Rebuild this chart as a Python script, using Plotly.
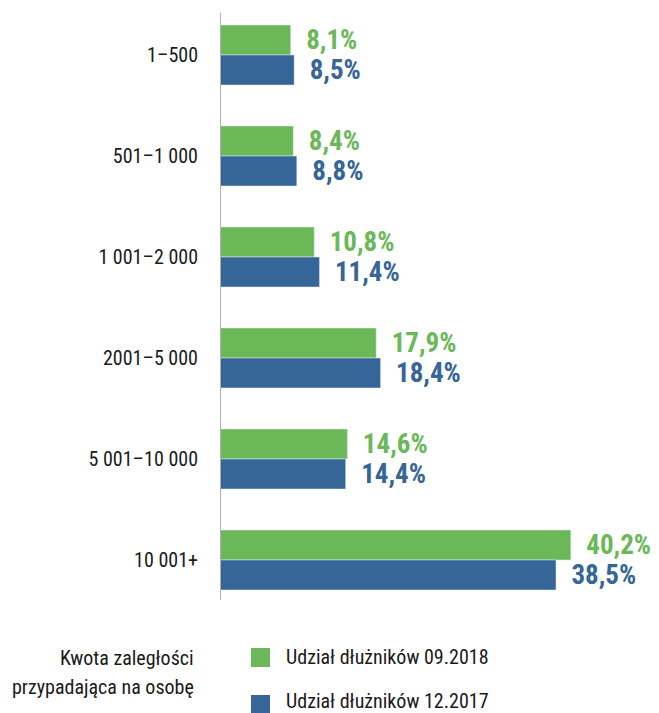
import plotly.graph_objects as go

# Categories (top to bottom) and shares in percent
categories = ["1–500", "501–1 000", "1 001–2 000", "2001–5 000", "5 001–10 000", "10 001+"]
share_2018 = [8.1, 8.4, 10.8, 17.9, 14.6, 40.2]
share_2017 = [8.5, 8.8, 11.4, 18.4, 14.4, 38.5]
name_2018 = "Udział dłużników 09.2018"
name_2017 = "Udział dłużników 12.2017"

GREEN = "#6ab858"
BLUE = "#366597"
INK = "#1a1a1a"
NARROW = "Roboto Condensed, DejaVu Sans Condensed, sans-serif"


def pct(v):
    # non-breaking spaces keep a gap between bar end and label
    return "\u00a0\u00a0" + f"{v:.1f}".replace(".", ",") + "%"


fig = go.Figure()
for vals, name, color in [(share_2018, name_2018, GREEN), (share_2017, name_2017, BLUE)]:
    fig.add_trace(go.Bar(
        y=categories, x=vals, orientation="h", name=name,
        marker_color=color, text=[pct(v) for v in vals],
        textposition="outside", cliponaxis=False, showlegend=False,
        constraintext="none",
        textfont=dict(family=NARROW, size=27, color=color, weight="bold"),
    ))

# vertical axis line
fig.add_shape(type="line", xref="x", yref="paper", x0=0, x1=0, y0=0.0133, y1=0.992,
              line=dict(color="#b0b0b0", width=2))

# legend drawn by hand (bigger squares than plotly's legend)
for (y0, y1, yt), name, color in [((-0.0667, -0.0983, -0.0817), name_2018, GREEN),
                                  ((-0.145, -0.175, -0.155), name_2017, BLUE)]:
    fig.add_shape(type="rect", xref="paper", yref="paper", x0=0.0706, x1=0.1139,
                  y0=y0, y1=y1, fillcolor=color, line_width=0)
    fig.add_annotation(text=name, xref="paper", yref="paper", x=0.146, y=yt,
                       xanchor="left", yanchor="middle", showarrow=False,
                       font=dict(family=NARROW, size=20, color=INK))

fig.add_annotation(text="Kwota zaległości", xref="paper", yref="paper",
                   x=-0.054, y=-0.0825, xanchor="right", yanchor="middle",
                   showarrow=False, font=dict(family=NARROW, size=20, color=INK))
fig.add_annotation(text="przypadająca na osobę", xref="paper", yref="paper",
                   x=-0.054, y=-0.131, xanchor="right", yanchor="middle",
                   showarrow=False, font=dict(family=NARROW, size=20, color=INK))

fig.update_layout(
    width=651, height=705,
    margin=dict(l=212, r=0, t=0, b=105, autoexpand=False),
    paper_bgcolor="white", plot_bgcolor="white",
    barmode="group", bargap=0.406, bargroupgap=0,
    font=dict(family=NARROW, size=20, color=INK),
    xaxis=dict(range=[0, 50.3], visible=False, fixedrange=True),
    yaxis=dict(range=[5.4752, -0.4653], showgrid=False, showline=False, ticks="",
               ticklabelstandoff=21, tickfont=dict(family=NARROW, size=20, color=INK)),
)

fig.write_html("out.html")
